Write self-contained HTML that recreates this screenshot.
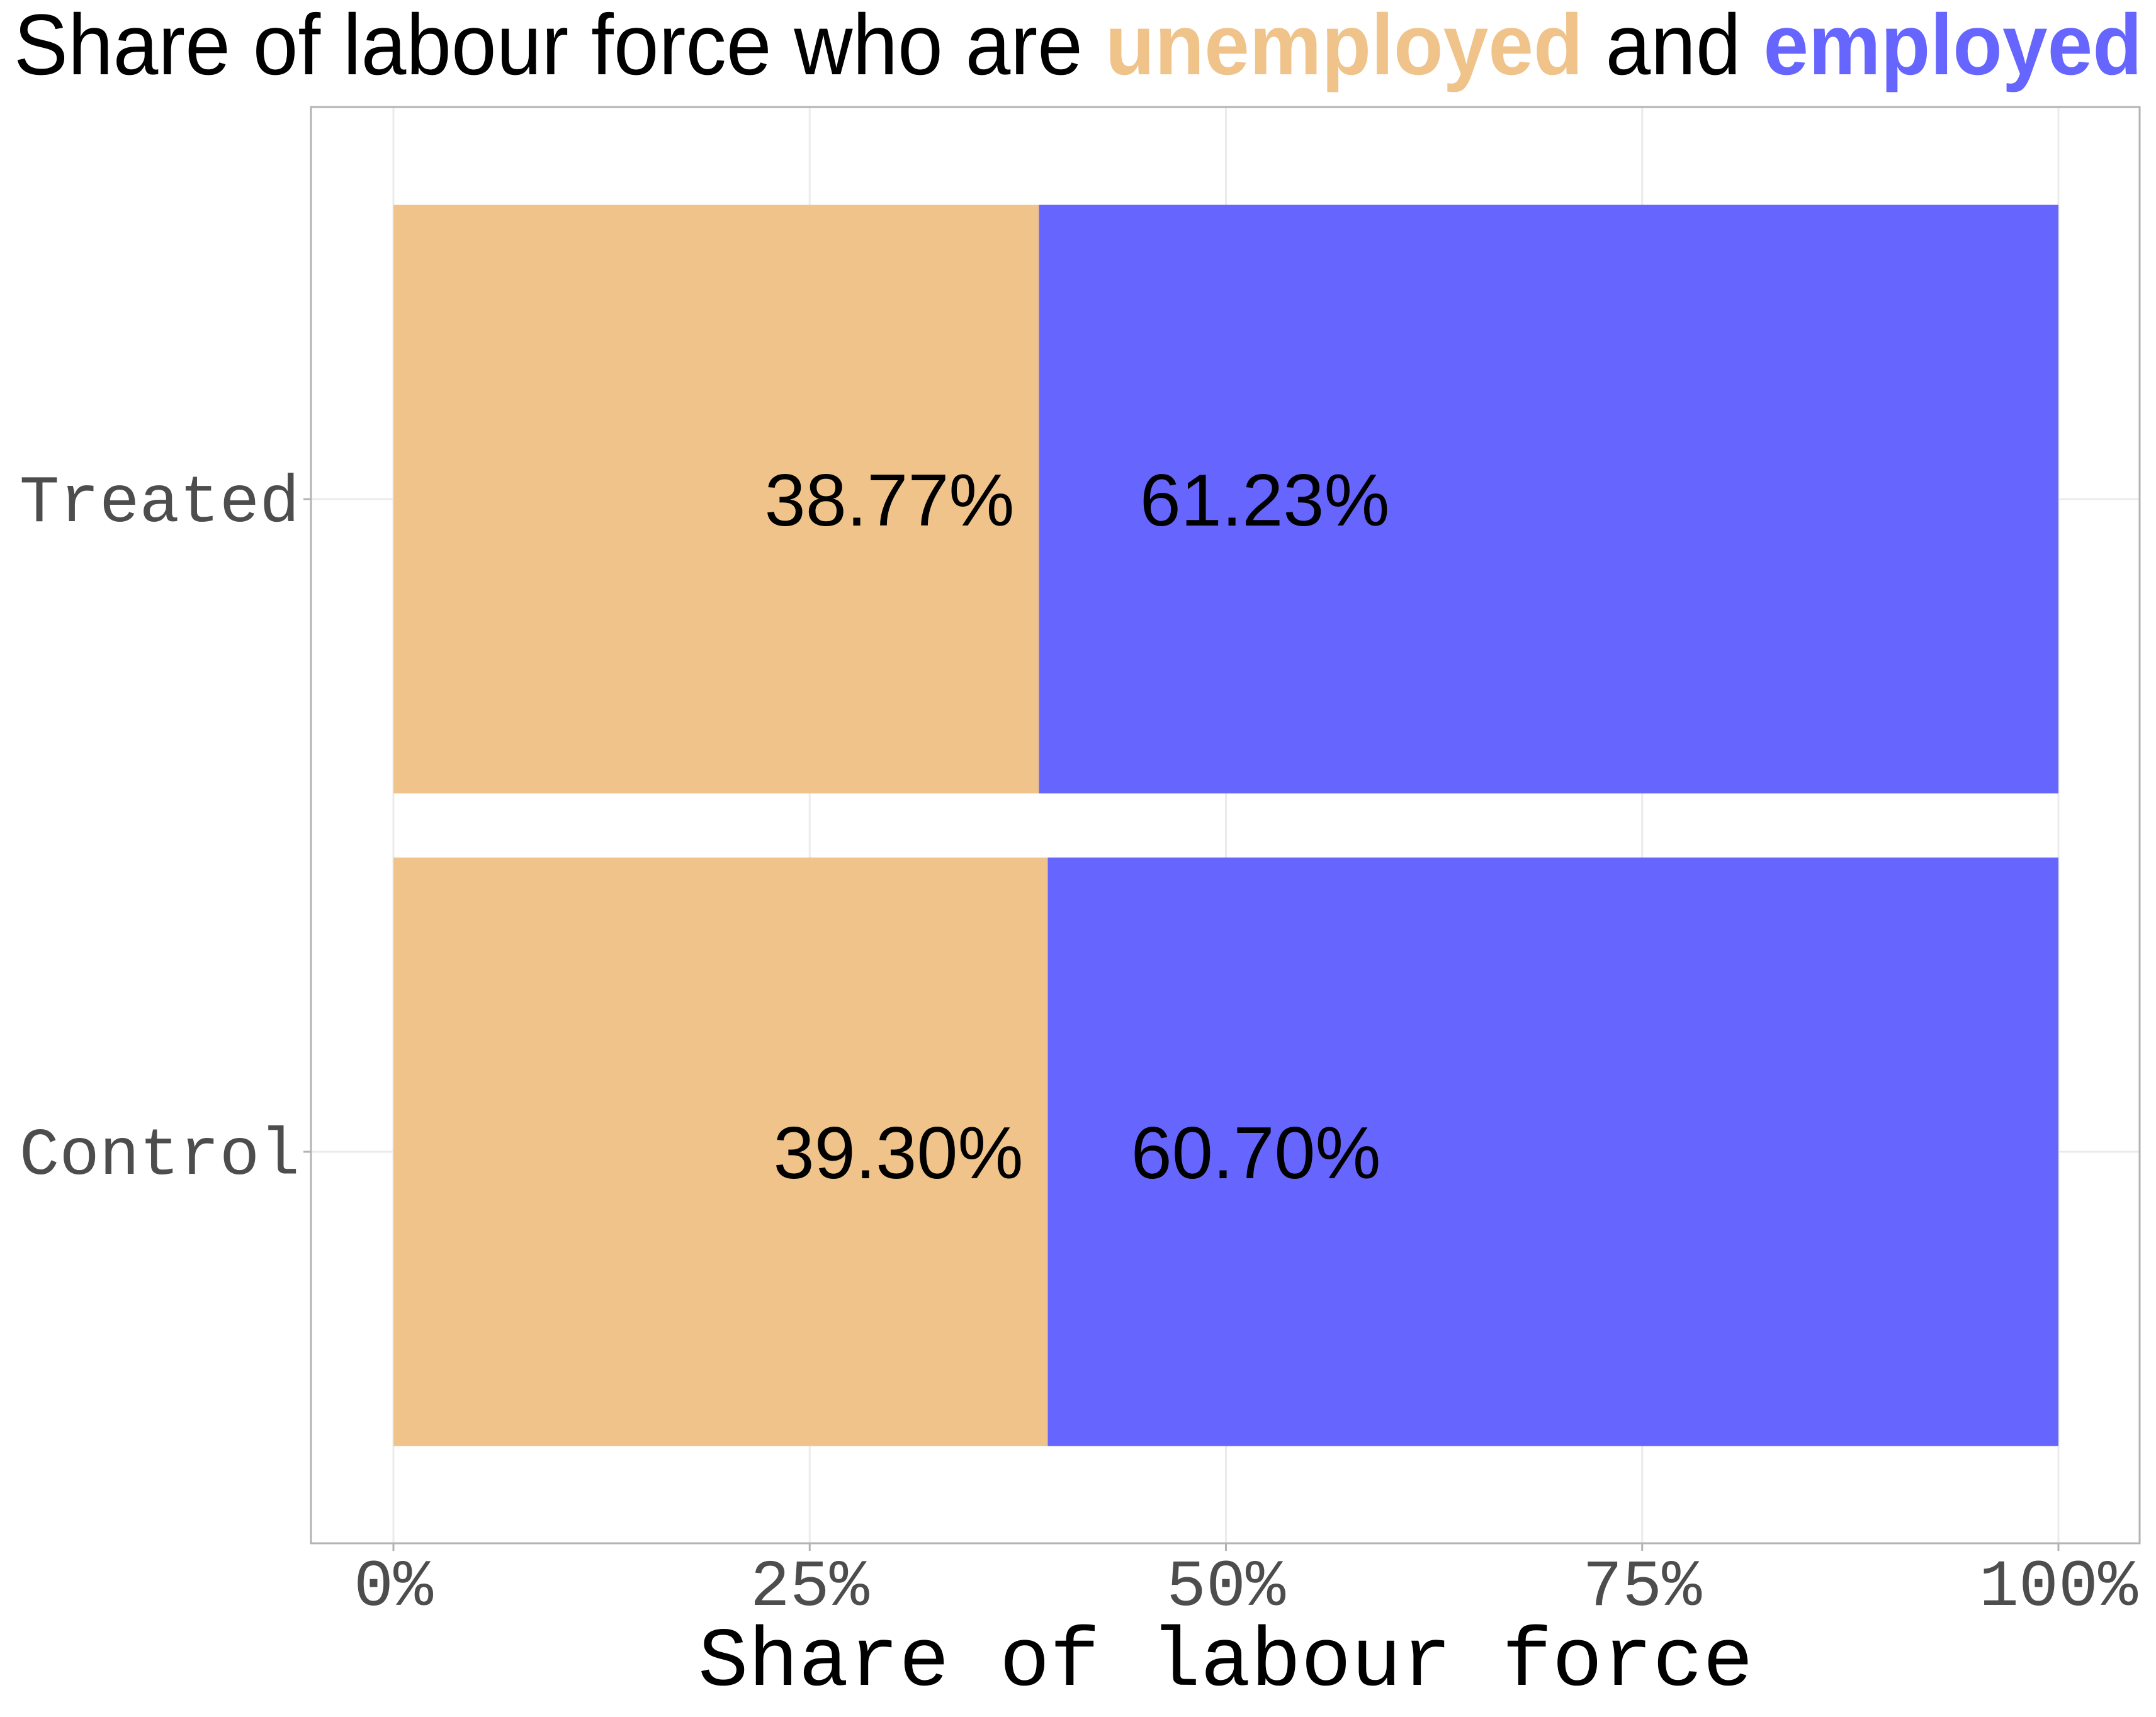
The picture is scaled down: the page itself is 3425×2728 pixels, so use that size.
<!DOCTYPE html>
<html><head><meta charset="utf-8"><style>html,body{margin:0;padding:0;background:#fff}svg{display:block}</style></head>
<body>
<svg id="chart" width="3425" height="2728" viewBox="0 0 3425 2728" xmlns="http://www.w3.org/2000/svg">
<rect width="3425" height="2728" fill="#fff"/>
<text x="22" y="118" font-family="Liberation Sans, sans-serif" font-size="137" fill="#000" textLength="3381" lengthAdjust="spacingAndGlyphs">Share of labour force who are <tspan font-weight="bold" fill="#EFC38A">unemployed</tspan> and <tspan font-weight="bold" fill="#6666FF">employed</tspan></text>
<g id="plot"></g>
<text x="1947" y="2677" text-anchor="middle" font-family="Liberation Mono, monospace" font-size="133" fill="#000">Share of labour force</text>
</svg>
<script>
const categories = ["Treated", "Control"];
const unemployed = [38.77, 39.30];
const employed = [61.23, 60.70];
const xTicks = [0, 25, 50, 75, 100];
const xTickLabels = ["0%", "25%", "50%", "75%", "100%"];

const NS = "http://www.w3.org/2000/svg";
const g = document.getElementById("plot");
const P = {l: 494, t: 170, r: 3399, b: 2452};
const x = v => 625 + v / 100 * (3270 - 625);
const yc = i => 793 + i * (1830 - 793);
const barH = 935;
function mk(tag, attrs, parent) {
  const e = document.createElementNS(NS, tag);
  for (const k in attrs) e.setAttribute(k, attrs[k]);
  (parent || g).appendChild(e);
  return e;
}
xTicks.forEach((t, i) => {
  const l = mk("line", {x1: x(t), x2: x(t), y1: P.t, y2: P.b, stroke: "#ebebeb", "stroke-width": 3});
  
  
  const tk = mk("line", {x1: x(t), x2: x(t), y1: P.b, y2: P.b + 12, stroke: "#b3b3b3", "stroke-width": 3});
  
  
  const tx = mk("text", {x: x(t), y: 2550, "text-anchor": "middle", "font-family": "Liberation Mono, monospace", "font-size": 105, fill: "#4d4d4d"});
  tx.textContent = xTickLabels[i];
  
  
});
categories.forEach((c, i) => {
  const l = mk("line", {x1: P.l, x2: P.r, y1: yc(i), y2: yc(i), stroke: "#ebebeb", "stroke-width": 3});
  
  
  const tk = mk("line", {x1: P.l - 12, x2: P.l, y1: yc(i), y2: yc(i), stroke: "#b3b3b3", "stroke-width": 3});
  
  
  const tx = mk("text", {x: 476, y: yc(i) + 35, "text-anchor": "end", "font-family": "Liberation Mono, monospace", "font-size": 106, fill: "#4d4d4d"});
  tx.textContent = c;
  
  
});
categories.forEach((c, i) => {
  const y0 = yc(i) - barH / 2;
  const b1 = mk("rect", {x: x(0), y: y0, width: x(unemployed[i]) - x(0), height: barH, fill: "#EFC38A"});
  
  
  const b2 = mk("rect", {x: x(unemployed[i]), y: y0, width: x(unemployed[i] + employed[i]) - x(unemployed[i]), height: barH, fill: "#6666FF"});
  
  
  const t1 = mk("text", {x: x(unemployed[i]) - 39, y: yc(i) + 42, "text-anchor": "end", "font-family": "Liberation Sans, sans-serif", "font-size": 117, fill: "#000"});
  t1.textContent = unemployed[i].toFixed(2) + "%";
  
  
  const t2 = mk("text", {x: x(employed[i]) - 37, y: yc(i) + 42, "text-anchor": "end", "font-family": "Liberation Sans, sans-serif", "font-size": 117, fill: "#000"});
  t2.textContent = employed[i].toFixed(2) + "%";
  
  
});
const border = mk("rect", {x: P.l, y: P.t, width: P.r - P.l, height: P.b - P.t, fill: "none", stroke: "#b3b3b3", "stroke-width": 3});


</script>
</body></html>
